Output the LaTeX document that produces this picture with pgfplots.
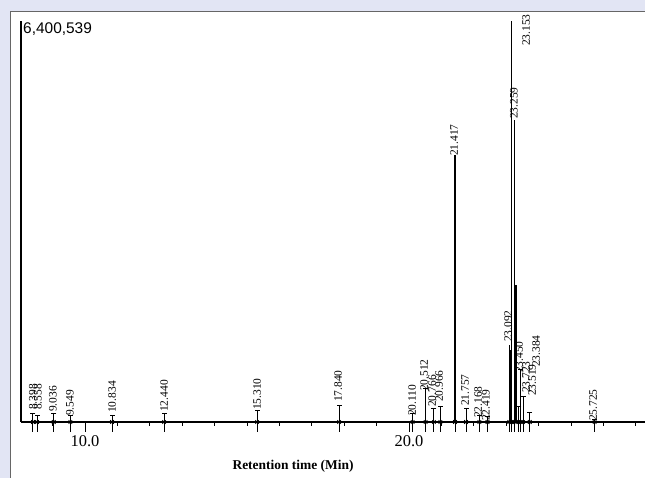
\documentclass[border=0pt]{standalone}
\usepackage{pgfplots}
\pgfplotsset{compat=1.18}
\usepackage{fontspec}
\setmainfont{Liberation Serif}
\newfontfamily\sansf{Liberation Sans}
\definecolor{bgl}{RGB}{226,229,244}
\newcommand\lab{\fontsize{11.5}{12}\selectfont}
\begin{document}
\begin{tikzpicture}[x=1bp,y=1bp]
\fill[bgl] (0,0) rectangle (645,478);
\fill[white] (10,0) rectangle (645,466);
\draw[black!60, line width=1bp] (10,0) -- (10,466) -- (645,466);
\begin{axis}[at={(21bp,56bp)}, anchor=south west, scale only axis,
  width=624bp, height=401bp,
  xmin=8.025, xmax=27.28, ymin=0, ymax=6400539,
  axis x line*=bottom, axis y line*=left,
  ytick=\empty, xtick={10,20}, xticklabels={10.0,20.0},
  minor xtick={9,11,12,13,14,15,16,17,18,19,21,22,23,24,25,26,27},
  tick align=outside, major tick length=10bp, minor tick length=4bp,
  tick style={black, line width=1bp},
  xticklabel style={font=\fontsize{16.5}{18}\selectfont},
  axis line style={black, line width=1.2bp},
  clip=false,
  xlabel={Retention time (Min)},
  xlabel style={font=\bfseries\fontsize{13.5}{15}\selectfont, at={(rel axis cs:0.436,0)}, anchor=center, yshift=-44bp},
]
% large peaks
\addplot[ycomb, black, line width=1.4bp] coordinates {
 (21.417,4260000) (23.092,1230000) (23.125,1150000) (23.153,6400539)
 (23.259,4820000) (23.30,2190000)
};
% small peaks
\addplot[ycomb, black, line width=1bp, mark=-, mark size=2.5bp, mark options={line width=1bp}] coordinates {
 (8.395,130000) (8.52,110000) (9.036,130000) (9.549,100000) (10.834,110000)
 (12.440,140000) (15.310,190000) (17.840,270000) (20.110,130000) (20.512,530000)
 (20.766,220000) (20.966,240000) (21.757,220000) (22.168,100000) (22.419,80000)
 (23.384,250000) (23.450,830000) (23.519,400000) (23.723,150000) (25.725,40000)
};
% detection markers below baseline
\addplot[ycomb, black, line width=1bp] coordinates {
 (8.395,-160000) (8.52,-160000) (9.036,-160000) (9.549,-160000) (10.834,-160000)
 (12.440,-160000) (15.310,-160000) (17.840,-160000) (20.110,-160000) (20.512,-160000)
 (20.766,-160000) (20.966,-160000) (21.417,-160000) (21.757,-160000) (22.168,-160000)
 (22.419,-160000) (23.092,-160000) (23.153,-160000) (23.259,-160000) (23.384,-160000)
 (23.450,-160000) (23.519,-160000) (23.723,-160000) (25.725,-160000)
};
\addplot[only marks, black, mark=x, mark size=2.5bp, mark options={line width=0.8bp}] coordinates {
 (8.395,0) (8.52,0) (9.036,0) (9.549,0) (10.834,0)
 (12.440,0) (15.310,0) (17.840,0) (20.110,0) (20.512,0)
 (20.766,0) (20.966,0) (21.417,0) (21.757,0) (22.168,0)
 (22.419,0) (23.092,0) (23.153,0) (23.259,0) (23.384,0)
 (23.450,0) (23.519,0) (23.723,0) (25.725,0)
};
\begin{scope}[every node/.style={rotate=90, anchor=west, inner sep=0pt, font=\lab}]
\node at (axis cs:8.395,191000) {8.398};
\node at (axis cs:8.55,191000) {8.558};
\node at (axis cs:9.013,160000) {9.036};
\node at (axis cs:9.537,96000) {9.549};
\node at (axis cs:10.834,144000) {10.834};
\node at (axis cs:12.439,160000) {12.440};
\node at (axis cs:15.309,191000) {15.310};
\node at (axis cs:17.809,319000) {17.840};
\node at (axis cs:20.093,96000) {20.110};
\node at (axis cs:20.463,495000) {20.512};
\node at (axis cs:20.71,240000) {20.766};
\node at (axis cs:20.926,319000) {20.966};
\node at (axis cs:21.39,4245000) {21.417};
\node at (axis cs:21.729,255000) {21.757};
\node at (axis cs:22.13,64000) {22.168};
\node at (axis cs:22.372,16000) {22.419};
\node at (axis cs:23.06,1277000) {23.092};
\node at (axis cs:23.235,4836000) {23.259};
\node at (axis cs:23.395,782000) {23.450};
\node at (axis cs:23.61,463000) {23.723};
\node at (axis cs:23.796,415000) {23.519};
\node at (axis cs:23.92,878000) {23.384};
\node at (axis cs:25.68,16000) {25.725};
\node[anchor=east] at (axis cs:23.61,6510000) {23.153};
\end{scope}
\end{axis}
\node[anchor=north west, inner sep=0pt, font=\sansf\fontsize{15.5}{17}\selectfont] at (23,455) {6,400,539};
\pgfresetboundingbox
\useasboundingbox (0,0) rectangle (645,478);
\end{tikzpicture}
\end{document}
